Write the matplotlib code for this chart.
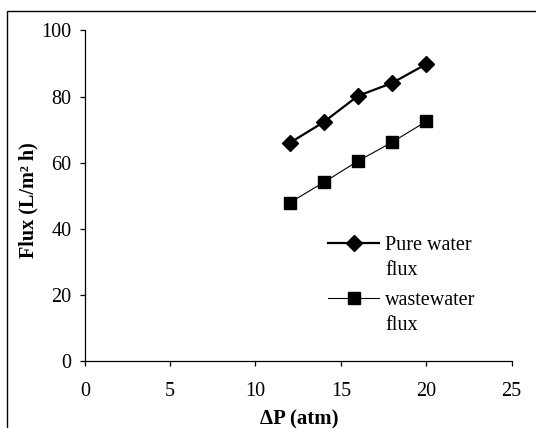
import matplotlib
matplotlib.use("Agg")
import matplotlib.pyplot as plt
from matplotlib.patches import Rectangle

pressure = [12, 14, 16, 18, 20]
pure_water_flux = [66.0, 72.3, 80.2, 84.1, 89.8]
wastewater_flux = [47.9, 54.1, 60.5, 66.2, 72.5]
labels = ["Pure water\nflux", "wastewater\nflux"]

plt.rcParams['font.family'] = ['Liberation Serif', 'DejaVu Serif']

W, H = 536, 428
fig = plt.figure(figsize=(W/100, H/100), dpi=100)
ax = fig.add_axes([84.8/W, 1 - 361.4/H, (511.5-84.8)/W, (361.4-30.4)/H])

ax.plot(pressure, pure_water_flux, color='black', lw=1.6, marker='D', ms=8.5, label=labels[0])
ax.plot(pressure, wastewater_flux, color='black', lw=0.8, marker='s', ms=8.3, label=labels[1])

ax.set_xlim(0, 25)
ax.set_ylim(0, 100)
ax.set_xticks([0, 5, 10, 15, 20, 25])
ax.set_yticks([0, 20, 40, 60, 80, 100])
for s in ['top', 'right']:
    ax.spines[s].set_visible(False)
for s in ['left', 'bottom']:
    ax.spines[s].set_linewidth(0.9)
ax.tick_params(axis='both', direction='out', length=3.7, width=0.9, labelsize=14.5, color='black')
ax.tick_params(axis='x', pad=11)
ax.tick_params(axis='y', pad=6)

ax.set_xlabel('ΔP (atm)', fontsize=15, fontweight='bold')
ax.xaxis.set_label_coords(299/W, 1 - 409/H, transform=fig.transFigure)
ax.set_ylabel('Flux (L/m² h)', fontsize=14.5, fontweight='bold', va='center')
ax.yaxis.set_label_coords(28/W, 1 - 200/H, transform=fig.transFigure)

leg = ax.legend(loc='upper left', bbox_to_anchor=(328/W, 1 - 236/H), bbox_transform=fig.transFigure,
                frameon=False, fontsize=14.5, handlelength=2.55, handletextpad=0.3, labelspacing=0.55,
                borderpad=0, borderaxespad=0, handleheight=0.7)
for t in leg.get_texts():
    t.set_linespacing(1.42)
for col in leg._legend_handle_box.get_children():
    for item in col.get_children():
        item.align = 'top'

fig.patches.append(Rectangle((7/W, -0.2), 1.2, 1.2 - 11/H, transform=fig.transFigure,
                             fill=False, edgecolor='black', lw=1.0, figure=fig))

fig.savefig('out.png', dpi=100)
